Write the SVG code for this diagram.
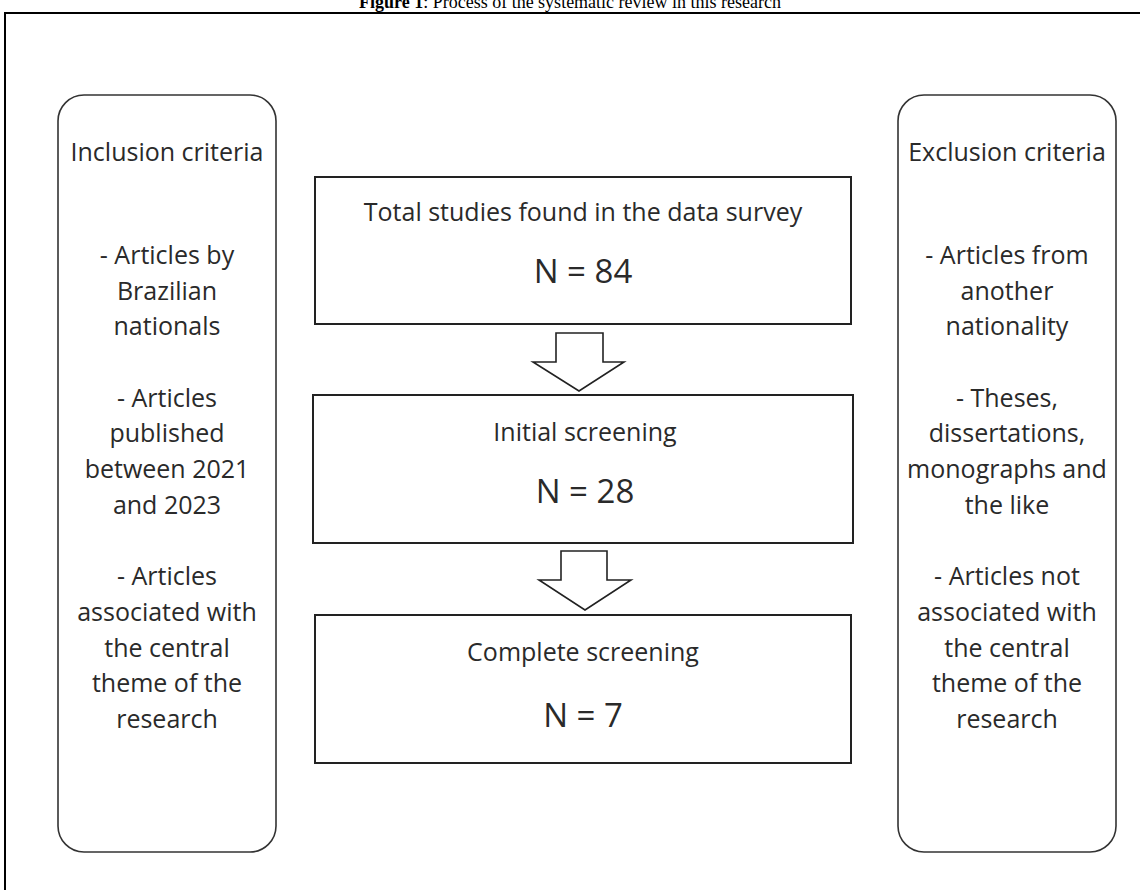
<svg xmlns="http://www.w3.org/2000/svg" width="1140" height="890" viewBox="0 0 1140 890">
<style>
.title{font-family:"Liberation Serif","Times New Roman",serif;font-size:18px;fill:#000}
.side{font-family:"Open Sans","Noto Sans",sans-serif;font-size:25px;fill:#2a2a2a;text-anchor:middle}
.bt{font-family:"Open Sans","Noto Sans",sans-serif;font-size:25px;fill:#2a2a2a;text-anchor:middle}
.bn{font-family:"Open Sans","Noto Sans",sans-serif;font-size:33px;fill:#2a2a2a;text-anchor:middle}
.rr{fill:#fff;stroke:#333;stroke-width:1.6}
.box{fill:#fff;stroke:#222;stroke-width:2}
.arr{fill:#fff;stroke:#222;stroke-width:1.6;stroke-linejoin:miter}
</style>
<rect width="1140" height="890" fill="#fff"/>
<text class="title" x="570" y="8" text-anchor="middle"><tspan font-weight="bold">Figure 1</tspan>: Process of the systematic review in this research</text>
<rect x="5" y="13" width="1150" height="890" fill="none" stroke="#000" stroke-width="2"/>

<g id="inclusion">
<rect class="rr" x="58" y="95" width="218" height="757" rx="26" ry="26"/>
<text class="side" x="167" y="161">Inclusion criteria</text>
<text class="side" x="167" y="264">- Articles by</text>
<text class="side" x="167" y="300">Brazilian</text>
<text class="side" x="167" y="335">nationals</text>
<text class="side" x="167" y="407">- Articles</text>
<text class="side" x="167" y="442">published</text>
<text class="side" x="167" y="478">between 2021</text>
<text class="side" x="167" y="514">and 2023</text>
<text class="side" x="167" y="585">- Articles</text>
<text class="side" x="167" y="621">associated with</text>
<text class="side" x="167" y="657">the central</text>
<text class="side" x="167" y="692">theme of the</text>
<text class="side" x="167" y="728">research</text>
</g>

<g id="exclusion">
<rect class="rr" x="898" y="95" width="218" height="757" rx="26" ry="26"/>
<text class="side" x="1007" y="161">Exclusion criteria</text>
<text class="side" x="1007" y="264">- Articles from</text>
<text class="side" x="1007" y="300">another</text>
<text class="side" x="1007" y="335">nationality</text>
<text class="side" x="1007" y="407">- Theses,</text>
<text class="side" x="1007" y="442">dissertations,</text>
<text class="side" x="1007" y="478">monographs and</text>
<text class="side" x="1007" y="514">the like</text>
<text class="side" x="1007" y="585">- Articles not</text>
<text class="side" x="1007" y="621">associated with</text>
<text class="side" x="1007" y="657">the central</text>
<text class="side" x="1007" y="692">theme of the</text>
<text class="side" x="1007" y="728">research</text>
</g>

<g id="total">
<rect class="box" x="315" y="177" width="536" height="147"/>
<text class="bt" x="583" y="221">Total studies found in the data survey</text>
<text class="bn" x="583" y="283">N = 84</text>
</g>

<g id="initial">
<rect class="box" x="313" y="395" width="540" height="148"/>
<text class="bt" x="585" y="441">Initial screening</text>
<text class="bn" x="585" y="503">N = 28</text>
</g>

<g id="complete">
<rect class="box" x="315" y="615" width="536" height="148"/>
<text class="bt" x="583" y="661">Complete screening</text>
<text class="bn" x="583" y="727">N = 7</text>
</g>

<g id="connectors">
<polygon class="arr" points="556,333 603,333 603,362 624,362 579,391 533,362 556,362"/>
<polygon class="arr" points="561,551 607,551 607,580 631,580 585,610 539,580 561,580"/>
</g>
</svg>
